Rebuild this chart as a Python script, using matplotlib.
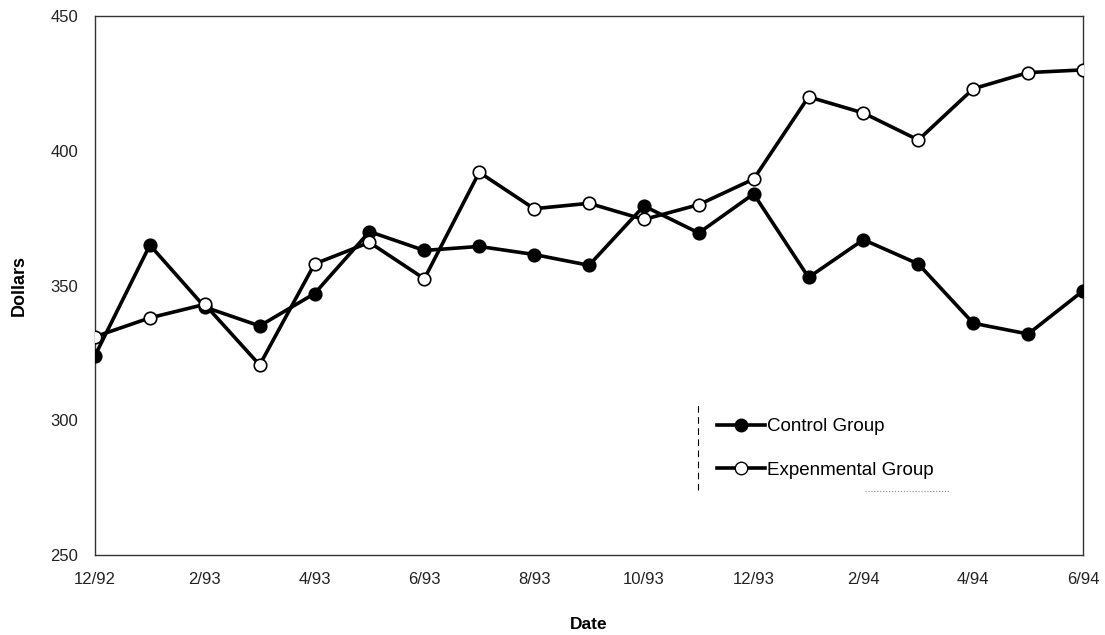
import matplotlib.pyplot as plt
from matplotlib.lines import Line2D

# values
dates = ['12/92', '1/93', '2/93', '3/93', '4/93', '5/93', '6/93', '7/93', '8/93', '9/93',
         '10/93', '11/93', '12/93', '1/94', '2/94', '3/94', '4/94', '5/94', '6/94']
control = [324, 365, 342, 335, 347, 370, 363, 364.5, 361.5, 357.5,
           379.5, 369.5, 384, 353, 367, 358, 336, 332, 348]
experimental = [331, 338, 343, 320.5, 358, 366, 352.5, 392, 378.5, 380.5,
                374.5, 380, 389.5, 420, 414, 404, 423, 429, 430]
tick_labels = ['12/92', '2/93', '4/93', '6/93', '8/93', '10/93', '12/93', '2/94', '4/94', '6/94']

plt.rcParams['font.family'] = ['Liberation Sans', 'DejaVu Sans']

fig = plt.figure(figsize=(11.05, 6.35), dpi=100)
ax = fig.add_axes([95 / 1105, 80 / 635, 988 / 1105, 539 / 635])

x = list(range(len(dates)))
ax.plot(x, control, color='black', lw=2.6, marker='o', ms=9,
        mfc='black', mec='black', mew=1.2, zorder=3)
ax.plot(x, experimental, color='black', lw=2.6, marker='o', ms=9,
        mfc='white', mec='black', mew=1.2, zorder=3)

ax.set_xlim(0, len(dates) - 1)
ax.set_ylim(250, 450)
ax.set_yticks([250, 300, 350, 400, 450])
ax.set_xticks([dates.index(t) for t in tick_labels])
ax.set_xticklabels(tick_labels)
ax.tick_params(length=0, labelsize=12, colors='#222222')
ax.tick_params(axis='x', pad=12)
ax.tick_params(axis='y', pad=12)

for s in ax.spines.values():
    s.set_linewidth(1.0)
    s.set_color('#333333')

ax.set_ylabel('Dollars', fontsize=13, fontweight='bold', labelpad=16)
ax.set_xlabel('Date', fontsize=12.5, fontweight='bold', labelpad=22)

handles = [
    Line2D([], [], color='black', lw=2.6, marker='o', ms=9, mfc='black', mec='black'),
    Line2D([], [], color='black', lw=2.6, marker='o', ms=9, mfc='white', mec='black'),
]
ax.legend(handles, ['Control Group', 'Expenmental Group'], loc='upper left',
          bbox_to_anchor=(605 / 988, 0.285), frameon=False, fontsize=13.5,
          handlelength=2.55, handletextpad=0.12, labelspacing=1.4)

# dashed divider left of the legend
ax.plot([603 / 988, 603 / 988], [0.12, 0.28], transform=ax.transAxes,
        color='black', lw=0.8, ls=(0, (6, 4)))
ax.plot([770 / 988, 855 / 988], [0.118, 0.118], transform=ax.transAxes,
        color='#888888', lw=0.8, ls=':')

fig.savefig('out.png', dpi=100)
